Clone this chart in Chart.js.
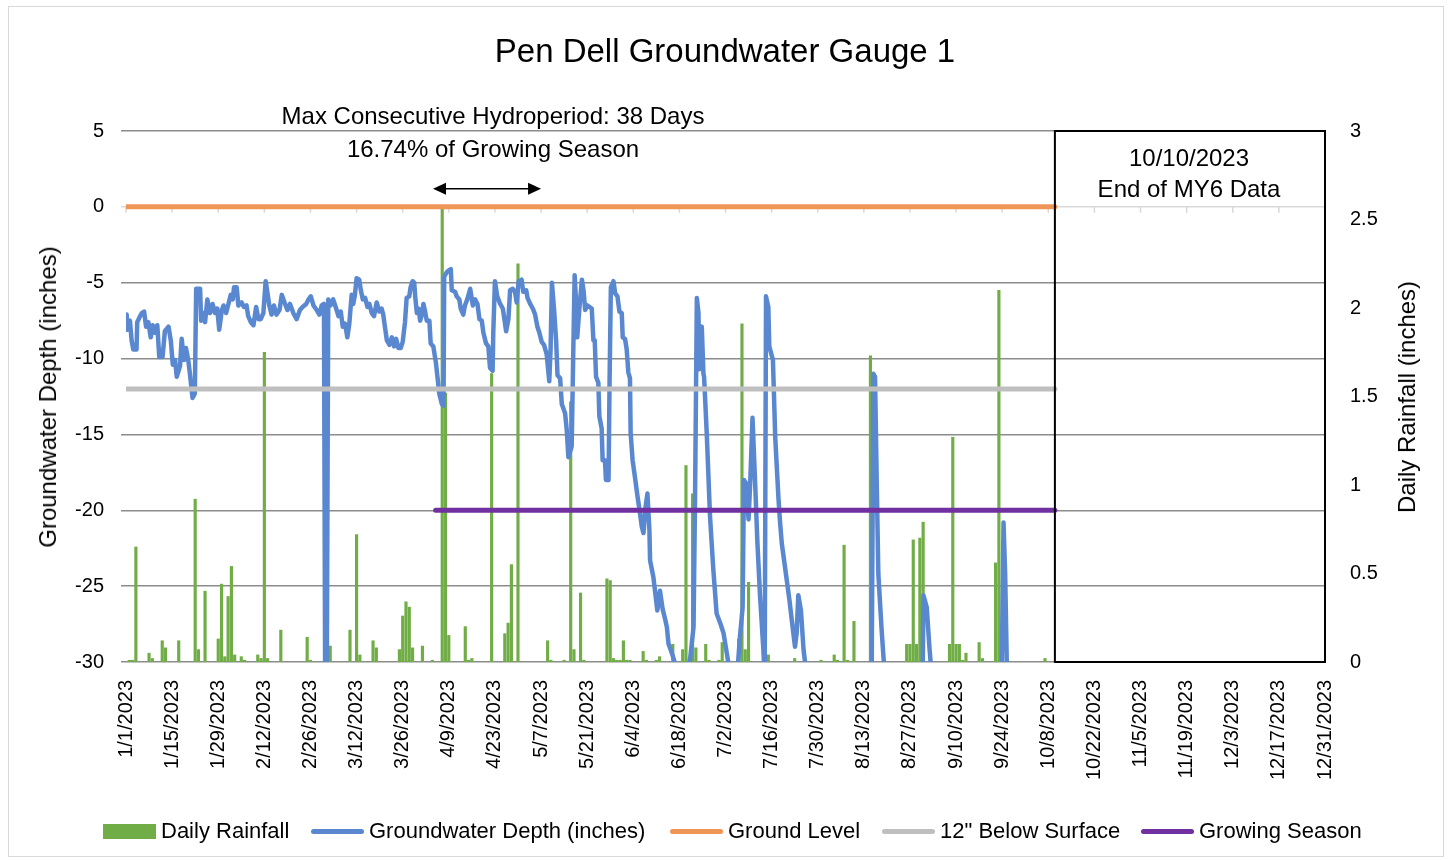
<!DOCTYPE html>
<html>
<head>
<meta charset="utf-8">
<script src="https://cdn.jsdelivr.net/npm/chart.js@4.4.1/dist/chart.umd.min.js"></script>
<style>
  html, body { margin: 0; padding: 0; background: #fff; }
  #wrap { position: relative; width: 1452px; height: 861px; font-family: 'Liberation Sans', Arial, sans-serif; color: #000; }
  #frame { position: absolute; left: 8px; top: 6px; width: 1436px; height: 851px; border: 1px solid #d9d9d9; box-sizing: border-box; }
  canvas { position: absolute; left: 0; top: 0; }
  .txt { position: absolute; white-space: nowrap; transform: translate(-50%, -50%); line-height: 1; }
  .vtxt { position: absolute; white-space: nowrap; transform: translate(-50%, -50%) rotate(-90deg); line-height: 1; font-size: 24px; }
  .lg { position: absolute; top: 831px; transform: translateY(-50%); display: flex; align-items: center; font-size: 22px; white-space: nowrap; }
  .lg .sw { display: inline-block; width: 53px; margin-right: 5px; }
  .lg .box { height: 15px; }
  .lg .ln { height: 5px; border-radius: 3px; }
</style>
</head>
<body>
<div id="wrap">
  <div id="frame"></div>
  <canvas id="c" width="1452" height="861"></canvas>

  <div class="txt" style="left:725px; top:50px; font-size:33px;">Pen Dell Groundwater Gauge 1</div>
  <div class="txt" style="left:493px; top:116px; font-size:24px;">Max Consecutive Hydroperiod: 38 Days</div>
  <div class="txt" style="left:493px; top:149px; font-size:24px;">16.74% of Growing Season</div>
  <div class="txt" style="left:1189px; top:158px; font-size:24px;">10/10/2023</div>
  <div class="txt" style="left:1189px; top:189px; font-size:24px;">End of MY6 Data</div>
  <div class="vtxt" style="left:48px; top:397px;">Groundwater Depth (inches)</div>
  <div class="vtxt" style="left:1407px; top:397px;">Daily Rainfall (inches)</div>

  <div class="lg" style="left:103px;"><span class="sw box" style="background:#70ad47"></span>Daily Rainfall</div>
  <div class="lg" style="left:311px;"><span class="sw ln" style="background:#5a88d0"></span>Groundwater Depth (inches)</div>
  <div class="lg" style="left:670px;"><span class="sw ln" style="background:#ef9555"></span>Ground Level</div>
  <div class="lg" style="left:882px;"><span class="sw ln" style="background:#bfbfbf"></span>12" Below Surface</div>
  <div class="lg" style="left:1141px;"><span class="sw ln" style="background:#7030a0"></span>Growing Season</div>
</div>

<script>
// days counted from 1/1/2023 (day 0)
const rainDay = [
  1, 2, 3, 7, 8, 11, 12, 16, 21, 22, 24, 28, 29, 30,
  31, 32, 33, 35, 36, 40, 41, 42, 43, 47, 55, 56,
  62, 68, 70, 71, 75, 76, 83, 84, 85, 86, 87,
  90, 93, 96, 97, 98, 103, 104, 105, 111, 115, 116, 117, 119,
  128, 129, 133, 135, 136, 138, 139, 146, 147, 148, 149, 150,
  151, 152, 153, 157, 158, 161, 162, 166, 169, 170, 171, 172, 173, 176, 177, 180,
  181, 186, 187, 188, 189, 195, 203, 211,
  215, 216, 218, 219, 221, 226, 237, 238, 239, 240, 241, 242,
  250, 251, 252, 253, 254, 255, 259, 260, 264, 265, 279
];
const rainInches = [
  0.01, 0.01, 0.65, 0.05, 0.02, 0.12, 0.08, 0.12, 0.92, 0.07, 0.40, 0.13, 0.44, 0.03,
  0.37, 0.54, 0.04, 0.03, 0.01, 0.04, 0.02, 1.75, 0.02, 0.18, 0.14, 0.01,
  0.09, 0.18, 0.72, 0.04, 0.12, 0.08, 0.07, 0.26, 0.34, 0.31, 0.08,
  0.09, 0.01, 2.57, 1.52, 0.15, 0.20, 0.01, 0.02, 1.63, 0.16, 0.22, 0.55, 2.25,
  0.12, 0.01, 0.01, 1.47, 0.07, 0.39, 0.01, 0.47, 0.46, 0.02, 0.01, 0.01,
  0.12, 0.01, 0.01, 0.06, 0.01, 0.01, 0.03, 0.10, 0.07, 1.11, 0.02, 0.95, 0.08, 0.10, 0.01, 0.01,
  0.11, 0.13, 1.91, 0.07, 0.45, 0.04, 0.02, 0.01,
  0.04, 0.01, 0.66, 0.01, 0.23, 1.73, 0.10, 0.10, 0.69, 0.10, 0.70, 0.79,
  0.10, 1.27, 0.10, 0.10, 0.01, 0.05, 0.11, 0.02, 0.56, 2.10, 0.02
];

// groundwater readings (depth below -30 is off the chart)
const gwDay = [
  0.2, 0.4, 1.2, 1.7, 2.2, 3.2, 3.4, 4.3, 4.8, 5.5, 6.1, 6.8, 7.5, 8.1, 8.8, 9.5,
  10.1, 11.1, 11.8, 12.9, 13.6, 14.2, 14.9, 15.4, 16.4, 16.9, 17.6, 18.2, 18.9, 19.4,
  20.2, 20.9, 21.3, 22.5, 22.8, 23.5, 24.0, 24.7, 25.5, 26.3, 27.0, 27.7, 28.3, 29.1, 29.6,
  30.4, 31.1, 31.8, 32.4, 32.8, 33.6, 34.1, 35.1, 35.8, 36.6, 37.1, 37.9, 38.7, 39.5,
  40.2, 40.9, 41.7, 42.4, 42.9, 43.5, 44.2, 44.9, 45.7, 46.6, 47.3, 48.3, 49.0, 49.8,
  50.8, 51.8, 52.8, 53.6, 54.7, 55.4, 56.1, 56.9, 57.9, 58.7, 59.4, 60.1, 60.5, 60.9,
  61.4, 62.1, 62.9, 63.8, 64.5, 65.2, 65.8, 66.5, 67.2, 67.8, 68.5, 69.0, 69.5,
  70.0, 70.8, 71.3, 71.9, 72.6, 73.3, 73.9, 74.6, 75.3, 76.1, 76.9, 77.6, 78.1, 78.6, 79.2,
  80.0, 80.7, 81.4, 82.0, 82.7, 83.4, 84.0, 84.7, 85.2, 86.0, 86.4, 87.0, 87.5, 87.8, 88.3, 88.8, 89.3, 89.8,
  90.3, 90.8, 91.3, 92.1, 92.5, 93.3, 94.1, 94.5, 95.1, 95.9, 96.4, 96.6, 97.4, 97.9, 98.6, 98.9, 99.9,
  100.4, 101.2, 101.6, 102.4, 102.9, 103.6, 104.5, 105.3, 106.0, 106.7, 107.3, 108.0, 108.5, 109.3,
  110.0, 110.5, 111.3, 111.5, 112.0, 112.7, 113.6, 114.4, 115.4, 116.1, 116.6, 117.4, 118.1, 118.6, 119.2,
  120.1, 120.6, 121.5, 121.9, 122.7, 123.5, 124.2, 124.9, 125.5, 126.2, 126.9, 127.7, 128.5, 128.9, 129.3,
  130.0, 130.6, 131.0, 131.8, 132.3, 133.3, 133.8, 134.3, 135.3, 135.8, 136.2, 136.6, 137.0, 137.6, 138.4, 138.9, 139.4,
  140.1, 141.4, 141.9, 142.3, 142.7, 143.4, 143.7, 144.4, 144.7, 145.4, 145.7, 146.5, 146.8, 147.2, 148.0, 148.5, 149.2, 149.8,
  150.5, 150.8, 151.5, 152.0, 152.5, 153.0, 153.2, 153.8, 154.5, 155.3, 155.9, 156.6, 157.1, 157.6, 158.3, 158.9, 159.1,
  160.1, 160.6, 161.3, 162.1, 162.9, 163.7, 164.2, 164.7, 165.7, 166.7, 168.5,
  170.9, 172.3, 172.8, 173.3, 173.8, 174.0, 174.3, 174.8, 175.3, 175.5, 176.3, 177.3, 178.3, 179.3,
  180.5, 181.4, 182.9, 184.5, 186.4, 187.2, 187.6, 188.2, 189.0, 189.5,
  190.2, 191.0, 191.7, 192.5, 193.5, 193.9, 194.3, 195.0, 195.3, 196.4, 197.1, 198.1, 198.6, 199.1,
  200.6, 201.4, 202.1, 203.1, 203.6, 204.1, 204.9, 205.7, 206.2, 215.0,
  226.4, 226.9, 227.4, 227.9, 228.4, 229.4, 230.1, 236.0,
  241.9, 242.1, 243.1, 243.9, 244.3, 255.0,
  265.9, 266.4, 266.9, 267.4, 270.0
];
const gwDepth = [
  -7.1, -8.1, -7.5, -8.8, -9.4, -9.4, -7.6, -7.2, -7.0, -6.9, -7.9, -7.6, -8.6, -7.8, -8.3, -7.8,
  -9.9, -9.9, -8.2, -7.9, -8.8, -10.4, -10.1, -11.2, -10.5, -8.7, -10.1, -9.3, -10.1, -11.0,
  -12.6, -12.3, -5.4, -5.4, -7.5, -7.0, -7.6, -6.1, -7.0, -6.4, -7.0, -6.7, -8.1, -6.8, -6.5,
  -7.0, -6.4, -5.8, -6.1, -5.3, -5.3, -6.5, -6.3, -6.6, -6.5, -7.2, -7.6, -7.8, -6.6,
  -7.4, -7.4, -7.0, -4.9, -5.6, -6.5, -7.1, -6.5, -7.1, -6.8, -5.8, -6.4, -6.8, -6.4,
  -7.0, -7.4, -6.8, -6.6, -6.4, -6.1, -5.9, -6.5, -6.8, -7.1, -6.5, -6.4, -34, -34,
  -6.1, -6.5, -6.1, -6.7, -7.2, -6.9, -7.9, -7.7, -8.6, -7.7, -5.8, -6.4, -5.8,
  -4.7, -4.8, -5.5, -6.1, -6.0, -6.6, -6.4, -7.0, -7.2, -6.3, -6.9, -6.7, -7.1, -7.9, -8.8,
  -9.1, -8.6, -9.2, -8.7, -9.3, -9.3, -8.9, -7.6, -6.0, -5.9, -5.3, -4.9, -5.0, -5.9, -7.0, -6.7, -7.5, -7.1,
  -6.4, -6.9, -7.5, -7.5, -9.0, -9.2, -10.3, -11.1, -12.3, -13.0, -13.1, -4.6, -4.3, -4.2, -4.1, -5.5, -5.6,
  -5.9, -6.1, -6.7, -7.1, -6.5, -6.1, -5.4, -6.5, -6.1, -6.4, -7.4, -7.5, -8.3, -9.0,
  -9.2, -10.6, -10.8, -8.3, -4.9, -5.9, -6.4, -6.7, -8.2, -7.4, -5.5, -5.4, -5.6, -6.3, -4.9,
  -4.8, -5.6, -5.5, -6.0, -6.4, -6.7, -7.1, -7.9, -8.3, -8.9, -9.1, -9.7, -11.5, -9.4, -5.0,
  -6.9, -8.9, -11.1, -11.3, -13.0, -13.6, -14.7, -16.5, -15.8, -9.4, -4.5, -6.1, -8.6, -6.8, -4.8, -5.5, -6.8,
  -6.5, -6.7, -8.8, -8.8, -11.2, -11.6, -13.8, -14.6, -16.7, -16.7, -18.0, -18.0, -11.6, -5.3, -4.9, -5.7, -5.9, -6.9,
  -7.0, -8.6, -8.7, -9.4, -10.9, -11.3, -14.9, -16.7, -17.8, -19.1, -20.0, -21.1, -21.5, -20.0, -18.9, -21.3, -23.3,
  -24.4, -25.3, -26.6, -25.3, -26.5, -27.2, -27.7, -28.8, -29.4, -30.1, -34,
  -30.5, -27.7, -18.2, -6.0, -7.0, -10.7, -8.1, -7.9, -11.0, -11.2, -14.9, -20.4, -23.9, -26.8,
  -27.5, -28.1, -30.1, -34, -28.3, -26.4, -18.0, -18.2, -20.6, -18.2,
  -13.9, -18.2, -22.2, -25.7, -29.2, -31, -5.9, -6.6, -9.2, -10.1, -15.2, -19.3, -20.9, -22.2,
  -24.6, -25.9, -27.2, -29.0, -28.1, -25.6, -26.6, -29.2, -30.1, -34,
  -30.1, -11.0, -11.2, -18.0, -24.2, -27.9, -30.1, -34,
  -30.1, -25.6, -26.4, -29.0, -30.1, -34,
  -30.1, -20.8, -24.2, -30.1, -34
];

// reference lines
const groundLevelDays = [0, 282];
const groundLevel = [0, 0];
const belowSurfaceDays = [0, 282];
const belowSurface = [-12, -12];
const growingDays = [94, 282];
const growingLevel = [-20, -20];

// annotations
const dataEndDay = 282;     // 10/10/2023
const yearEndDay = 364;     // 12/31/2023
const hydroFrom = 93.2, hydroTo = 126, hydroY = 1.2;

const pts = (xs, ys) => xs.map((x, i) => ({ x, y: ys[i] }));

function dayLabel(v) {
  const d = new Date(2023, 0, 1 + Math.round(v));
  return `${d.getMonth() + 1}/${d.getDate()}/2023`;
}

// ── Cuadro, flecha y marcas del eje en 0 ──
const overlay = {
  id: 'overlay',
  beforeDatasetsDraw(chart) {
    const { ctx, scales: { x, y } } = chart;
    const y0 = y.getPixelForValue(0);
    ctx.save();
    ctx.strokeStyle = '#d9d9d9';
    ctx.lineWidth = 1.5;
    for (let d = 0; d <= 364; d += 14) {
      const px = x.getPixelForValue(d);
      ctx.beginPath();
      ctx.moveTo(px, y0);
      ctx.lineTo(px, y0 + 6);
      ctx.stroke();
    }
    ctx.restore();
  },
  afterDatasetsDraw(chart) {
    const { ctx, scales: { x, y } } = chart;
    ctx.save();
    // end-of-data box
    const bx1 = x.getPixelForValue(dataEndDay), bx2 = x.getPixelForValue(yearEndDay);
    const by1 = y.getPixelForValue(5), by2 = y.getPixelForValue(-30);
    ctx.strokeStyle = '#000';
    ctx.lineWidth = 2;
    ctx.strokeRect(bx1, by1, bx2 - bx1, by2 - by1);
    // hydroperiod arrow
    const ax1 = x.getPixelForValue(hydroFrom), ax2 = x.getPixelForValue(hydroTo);
    const ay = y.getPixelForValue(hydroY);
    const head = 13, half = 6;
    ctx.lineWidth = 1.5;
    ctx.beginPath();
    ctx.moveTo(ax1 + head - 2, ay);
    ctx.lineTo(ax2 - head + 2, ay);
    ctx.stroke();
    ctx.fillStyle = '#000';
    ctx.beginPath();
    ctx.moveTo(ax1, ay);
    ctx.lineTo(ax1 + head, ay - half);
    ctx.lineTo(ax1 + head, ay + half);
    ctx.closePath();
    ctx.fill();
    ctx.beginPath();
    ctx.moveTo(ax2, ay);
    ctx.lineTo(ax2 - head, ay - half);
    ctx.lineTo(ax2 - head, ay + half);
    ctx.closePath();
    ctx.fill();
    ctx.restore();
  }
};

const font = { family: "'Liberation Sans', Arial, sans-serif", size: 20 };

new Chart(document.getElementById('c'), {
  type: 'bar',
  data: {
    datasets: [
      {
        type: 'line',
        label: 'Growing Season',
        data: pts(growingDays, growingLevel),
        borderColor: '#7030a0',
        borderWidth: 5,
        borderCapStyle: 'round',
        pointRadius: 0,
        order: 1
      },
      {
        type: 'line',
        label: '12" Below Surface',
        data: pts(belowSurfaceDays, belowSurface),
        borderColor: '#bfbfbf',
        borderWidth: 5,
        borderCapStyle: 'round',
        pointRadius: 0,
        order: 2
      },
      {
        type: 'line',
        label: 'Ground Level',
        data: pts(groundLevelDays, groundLevel),
        borderColor: '#ef9555',
        borderWidth: 5,
        borderCapStyle: 'round',
        pointRadius: 0,
        order: 3
      },
      {
        type: 'line',
        label: 'Groundwater Depth (inches)',
        data: pts(gwDay, gwDepth),
        borderColor: '#5a88d0',
        borderWidth: 4.5,
        borderJoinStyle: 'round',
        borderCapStyle: 'round',
        pointRadius: 0,
        tension: 0,
        clip: 0,
        order: 4
      },
      {
        type: 'bar',
        label: 'Daily Rainfall',
        data: pts(rainDay, rainInches),
        yAxisID: 'y1',
        backgroundColor: '#70ad47',
        barThickness: 2.5,
        order: 5
      }
    ]
  },
  options: {
    responsive: false,
    animation: false,
    layout: { padding: { top: 131, bottom: 69, left: 0, right: 0 } },
    plugins: { legend: { display: false }, tooltip: { enabled: false } },
    scales: {
      x: {
        type: 'linear',
        min: 0,
        max: 364,
        offset: false,
        grid: { display: false, drawTicks: false },
        border: { display: false },
        ticks: {
          stepSize: 14,
          autoSkip: false,
          maxRotation: 90,
          minRotation: 90,
          padding: 18,
          color: '#000',
          font,
          callback: v => dayLabel(v)
        },
        afterFit: s => { s.height = 130; }
      },
      y: {
        position: 'left',
        min: -30,
        max: 5,
        grid: {
          color: c => (c.tick && c.tick.value === 0 ? '#d9d9d9' : '#8c8c8c'),
          lineWidth: 1.5,
          tickLength: 5
        },
        border: { display: false },
        ticks: { stepSize: 5, padding: 17, color: '#000', font },
        afterFit: s => { s.width = 126; }
      },
      y1: {
        position: 'right',
        min: 0,
        max: 3,
        grid: { display: false, drawTicks: false },
        border: { display: false },
        ticks: { stepSize: 0.5, padding: 25, color: '#000', font, callback: v => String(v) },
        afterFit: s => { s.width = 127; }
      }
    }
  },
  plugins: [overlay]
});
</script>
</body>
</html>
